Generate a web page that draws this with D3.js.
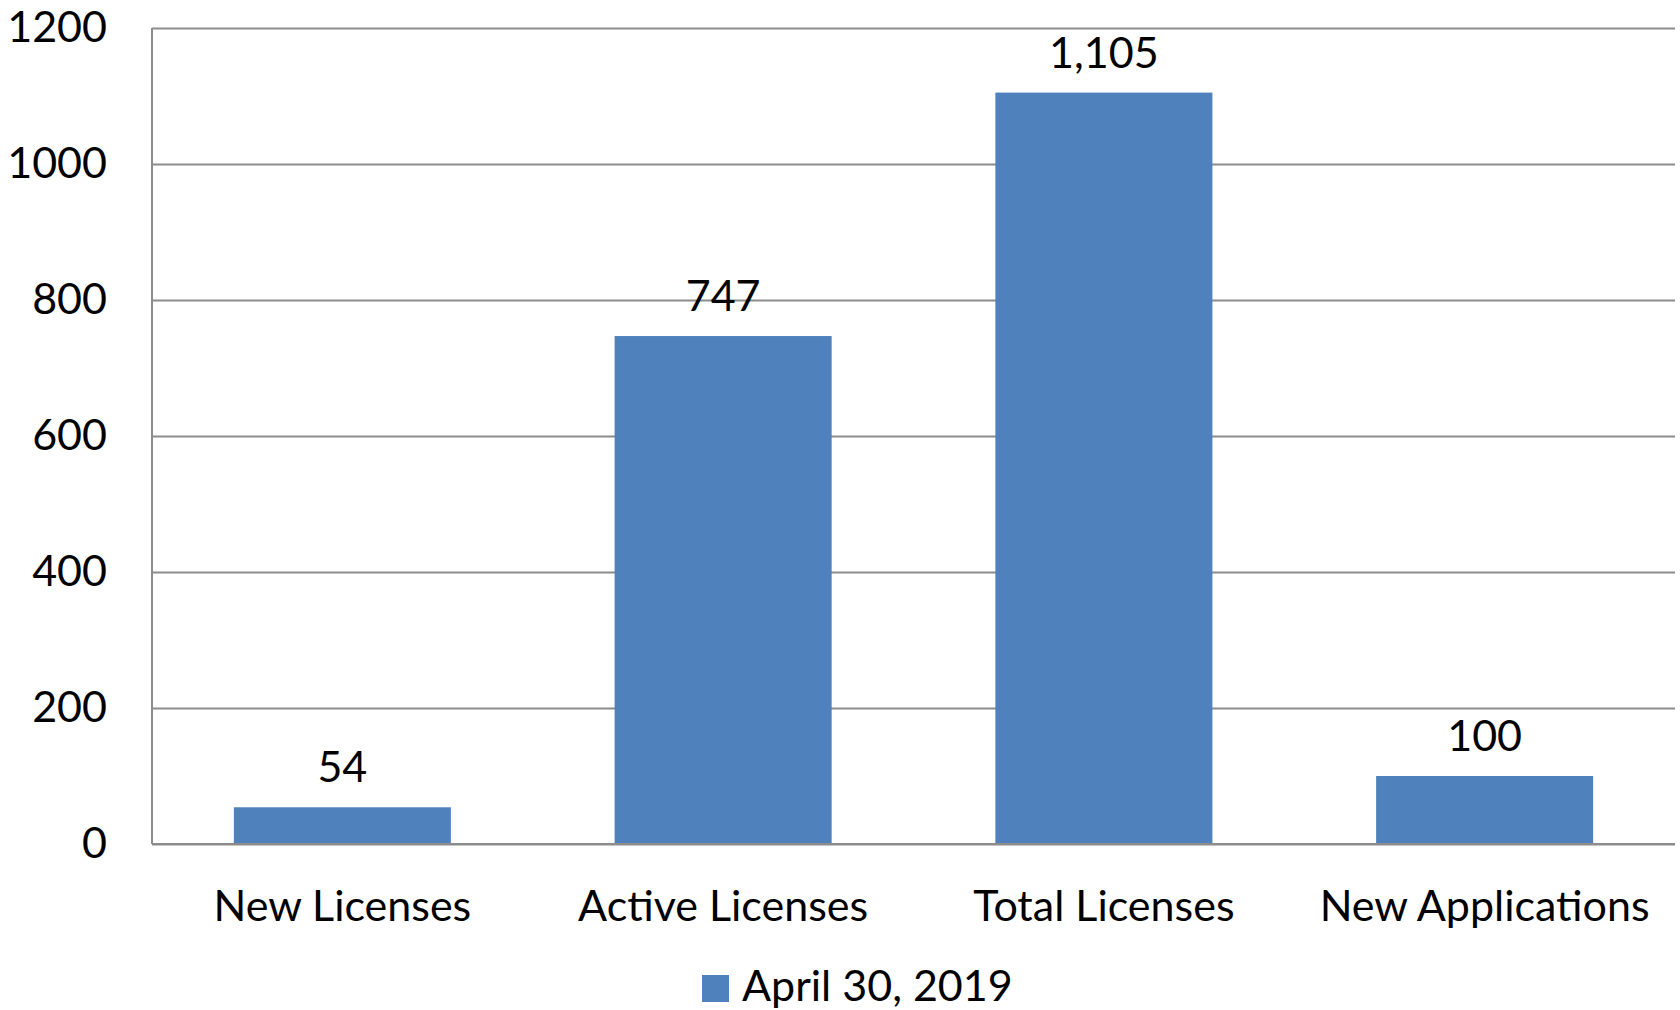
<!DOCTYPE html>
<html>
<head>
<meta charset="utf-8">
<script src="https://cdn.jsdelivr.net/npm/d3@7"></script>
<style>
  html, body { margin: 0; padding: 0; background: #fff; }
  svg text { font-family: Lato, "Open Sans", sans-serif; fill: #000; }
</style>
</head>
<body>
<svg id="chart" width="1680" height="1010"></svg>
<script>
// data
var categories = ["New Licenses", "Active Licenses", "Total Licenses", "New Applications"];
var values = [54, 747, 1105, 100];
var valueLabels = ["54", "747", "1,105", "100"];
var yTicks = [0, 200, 400, 600, 800, 1000, 1200];
var seriesName = "April 30, 2019";

var svg = d3.select("#chart"),
    plotLeft = 152, plotRight = 1675, plotTop = 28, plotBottom = 844,
    fontSize = 43,
    barColor = "#4f81bd",
    gridColor = "#8c8c8c";

var x = d3.scaleBand()
    .domain(categories)
    .range([plotLeft, plotRight])
    .paddingInner(0.43)
    .paddingOuter(0.215);

var y = d3.scaleLinear()
    .domain([0, 1200])
    .range([plotBottom, plotTop]);

// gridlines + tick labels
var yAxis = d3.axisLeft(y)
    .tickValues(yTicks)
    .tickSize(-(plotRight - plotLeft))
    .tickPadding(45)
    .tickFormat(d3.format("d"));

var gy = svg.append("g")
    .attr("transform", "translate(" + plotLeft + ",0)")
    .call(yAxis);
gy.select(".domain").remove();
gy.selectAll(".tick line")
    .attr("stroke", gridColor)
    .attr("stroke-width", 2);
gy.selectAll(".tick text")
    .attr("font-size", fontSize)
    .attr("fill", "#000");

// left axis line
svg.append("line")
    .attr("x1", plotLeft).attr("x2", plotLeft)
    .attr("y1", plotTop).attr("y2", plotBottom)
    .attr("stroke", gridColor)
    .attr("stroke-width", 2);

// bars
svg.append("g").selectAll("rect")
    .data(values)
    .join("rect")
    .attr("x", function (d, i) { return x(categories[i]); })
    .attr("width", x.bandwidth())
    .attr("y", function (d) { return y(d); })
    .attr("height", function (d) { return y(0) - y(d); })
    .attr("fill", barColor);

// bottom axis line drawn over bars
svg.append("line")
    .attr("x1", plotLeft).attr("x2", plotRight)
    .attr("y1", plotBottom).attr("y2", plotBottom)
    .attr("stroke", gridColor)
    .attr("stroke-width", 2);

// value labels
svg.append("g").selectAll("text")
    .data(values)
    .join("text")
    .attr("x", function (d, i) { return x(categories[i]) + x.bandwidth() / 2; })
    .attr("y", function (d) { return y(d) - 25; })
    .attr("text-anchor", "middle")
    .attr("font-size", fontSize)
    .text(function (d, i) { return valueLabels[i]; });

// category labels
var xAxis = d3.axisBottom(x).tickSize(0).tickPadding(0);
var gx = svg.append("g")
    .attr("transform", "translate(0," + plotBottom + ")")
    .call(xAxis);
gx.select(".domain").remove();
gx.selectAll(".tick text")
    .attr("font-size", fontSize)
    .attr("fill", "#000")
    .attr("dy", null)
    .attr("y", 77);

// legend
var legend = svg.append("g");
legend.append("rect")
    .attr("x", 702).attr("y", 975)
    .attr("width", 27).attr("height", 27)
    .attr("fill", barColor);
legend.append("text")
    .attr("x", 742).attr("y", 1001)
    .attr("font-size", fontSize)
    .text(seriesName);
</script>
</body>
</html>
